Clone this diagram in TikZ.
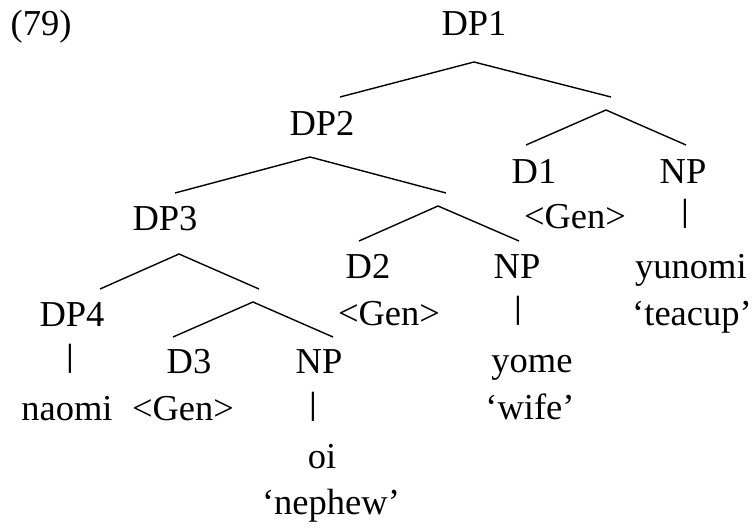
\documentclass[tikz,border=0pt]{standalone}
\usepackage{graphicx}
\usepackage{fontspec}
\setmainfont{Liberation Serif}
\tikzset{
  lab/.style={anchor=base,inner sep=0pt,font=\fontsize{36.5}{40}\selectfont},
  bar/.style={anchor=south,inner sep=0pt,font=\fontsize{36.5}{40}\selectfont},
  branch/.style={line width=1.4pt}
}
\newcommand\vbar{\scalebox{1.2}[0.88]{|}}
\begin{document}
\begin{tikzpicture}[x=1pt,y=-1pt]
  \useasboundingbox (0,0) rectangle (754,527);
  % labels
  \node[lab] (ex) at (41,36) {(79)};
  \node[lab] (dp1) at (474,36) {DP1};
  \node[lab] (dp2) at (322,135) {DP2};
  \node[lab] (d1) at (534,183) {D1};
  \node[lab] (np1) at (683,183) {NP};
  \node[lab] (gen1) at (575,228) {<Gen>};
  \node[bar] (bar1) at (685,229) {\vbar};
  \node[lab] (dp3) at (165,230) {DP3};
  \node[lab] (d2) at (368,278) {D2};
  \node[lab] (np2) at (517,278) {NP};
  \node[lab] (yunomi) at (691,278) {yunomi};
  \node[lab] (gen2) at (389,325) {<Gen>};
  \node[bar] (bar2) at (518,326) {\vbar};
  \node[lab] (teacup) at (692,325) {‘teacup’};
  \node[lab] (dp4) at (72,326) {DP4};
  \node[bar] (bar4) at (70,374) {\vbar};
  \node[lab] (d3) at (189,373) {D3};
  \node[lab] (np3) at (319,373) {NP};
  \node[lab] (yome) at (532,372) {yome};
  \node[lab] (naomi) at (67,420) {naomi};
  \node[lab] (gen3) at (183,420) {<Gen>};
  \node[bar] (bar3) at (313,422) {\vbar};
  \node[lab] (wife) at (530,419) {‘wife’};
  \node[lab] (oi) at (322,468) {oi};
  \node[lab] (nephew) at (331,514) {‘nephew’};
  % branch points
  \coordinate (t1) at (474,62);  \coordinate (l1) at (340,97);  \coordinate (r1) at (611,97);
  \coordinate (t2) at (606,110); \coordinate (l2) at (526,145); \coordinate (r2) at (686,145);
  \coordinate (t3) at (310,157); \coordinate (l3) at (175,193); \coordinate (r3) at (446,193);
  \coordinate (t4) at (438,206); \coordinate (l4) at (359,241); \coordinate (r4) at (519,241);
  \coordinate (t5) at (179,254); \coordinate (l5) at (100,289); \coordinate (r5) at (259,289);
  \coordinate (t6) at (253,302); \coordinate (l6) at (173,337); \coordinate (r6) at (333,337);
  \foreach \i in {1,...,6}
    \draw[branch] (l\i) -- (t\i) -- (r\i);
\end{tikzpicture}
\end{document}
